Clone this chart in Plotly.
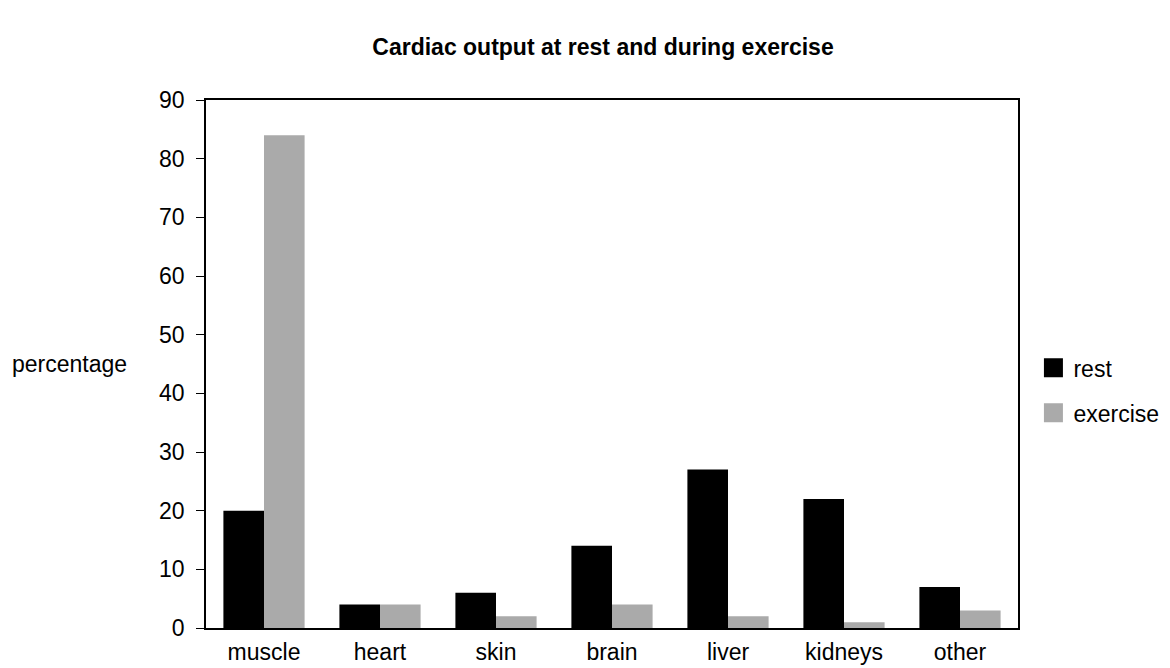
import plotly.graph_objects as go

categories = ["muscle", "heart", "skin", "brain", "liver", "kidneys", "other"]
rest = [20, 4, 6, 14, 27, 22, 7]
exercise = [84, 4, 2, 4, 2, 1, 3]
y_ticks = [0, 10, 20, 30, 40, 50, 60, 70, 80, 90]

FONT = "Liberation Sans, Arial, sans-serif"

fig = go.Figure()
fig.add_trace(go.Bar(x=categories, y=rest, name="rest", marker_color="#000000",
                     marker_line_width=0, showlegend=False))
fig.add_trace(go.Bar(x=categories, y=exercise, name="exercise", marker_color="#aaaaaa",
                     marker_line_width=0, showlegend=False))
# legend entries
fig.add_trace(go.Scatter(x=[None], y=[None], mode="markers", name="rest",
                         legendgroup="a",
                         marker=dict(symbol="square", size=16, color="#000000",
                                     line=dict(width=3, color="#000000"))))
fig.add_trace(go.Scatter(x=[None], y=[None], mode="markers", name="exercise",
                         legendgroup="b",
                         marker=dict(symbol="square", size=16, color="#aaaaaa",
                                     line=dict(width=3, color="#aaaaaa"))))

fig.update_layout(
    width=1170, height=668,
    paper_bgcolor="white", plot_bgcolor="white",
    margin=dict(l=198, r=160, t=92, b=48),
    barmode="group", bargap=0.30, bargroupgap=0,
    font=dict(family=FONT, size=23, color="black"),
    title=dict(text="<b>Cardiac output at rest and during exercise</b>",
               xref="container", x=595 / 1170, xanchor="center",
               y=1 - 39 / 668, yanchor="middle",
               font=dict(size=23)),
    showlegend=True,
    legend=dict(x=1.019, xanchor="left", y=0.45, yanchor="middle",
                font=dict(size=23), traceorder="grouped", tracegroupgap=12,
                itemsizing="trace", bgcolor="rgba(0,0,0,0)"),
    xaxis=dict(showline=True, linecolor="black", linewidth=1.5, mirror=True,
               ticks="", showgrid=False, tickfont=dict(size=23),
               ticklabelstandoff=3),
    yaxis=dict(range=[0, 90], tickvals=y_ticks, showline=True, linecolor="black",
               linewidth=1.5, mirror=True, ticks="outside", ticklen=8,
               tickcolor="black", showgrid=False, zeroline=False,
               tickfont=dict(size=23), ticklabelstandoff=7),
    annotations=[dict(text="percentage", x=0, xref="paper", xanchor="left",
                      xshift=-196, y=0.5, yref="paper", yanchor="middle",
                      showarrow=False, font=dict(size=23))],
)

fig.write_html("out.html")
